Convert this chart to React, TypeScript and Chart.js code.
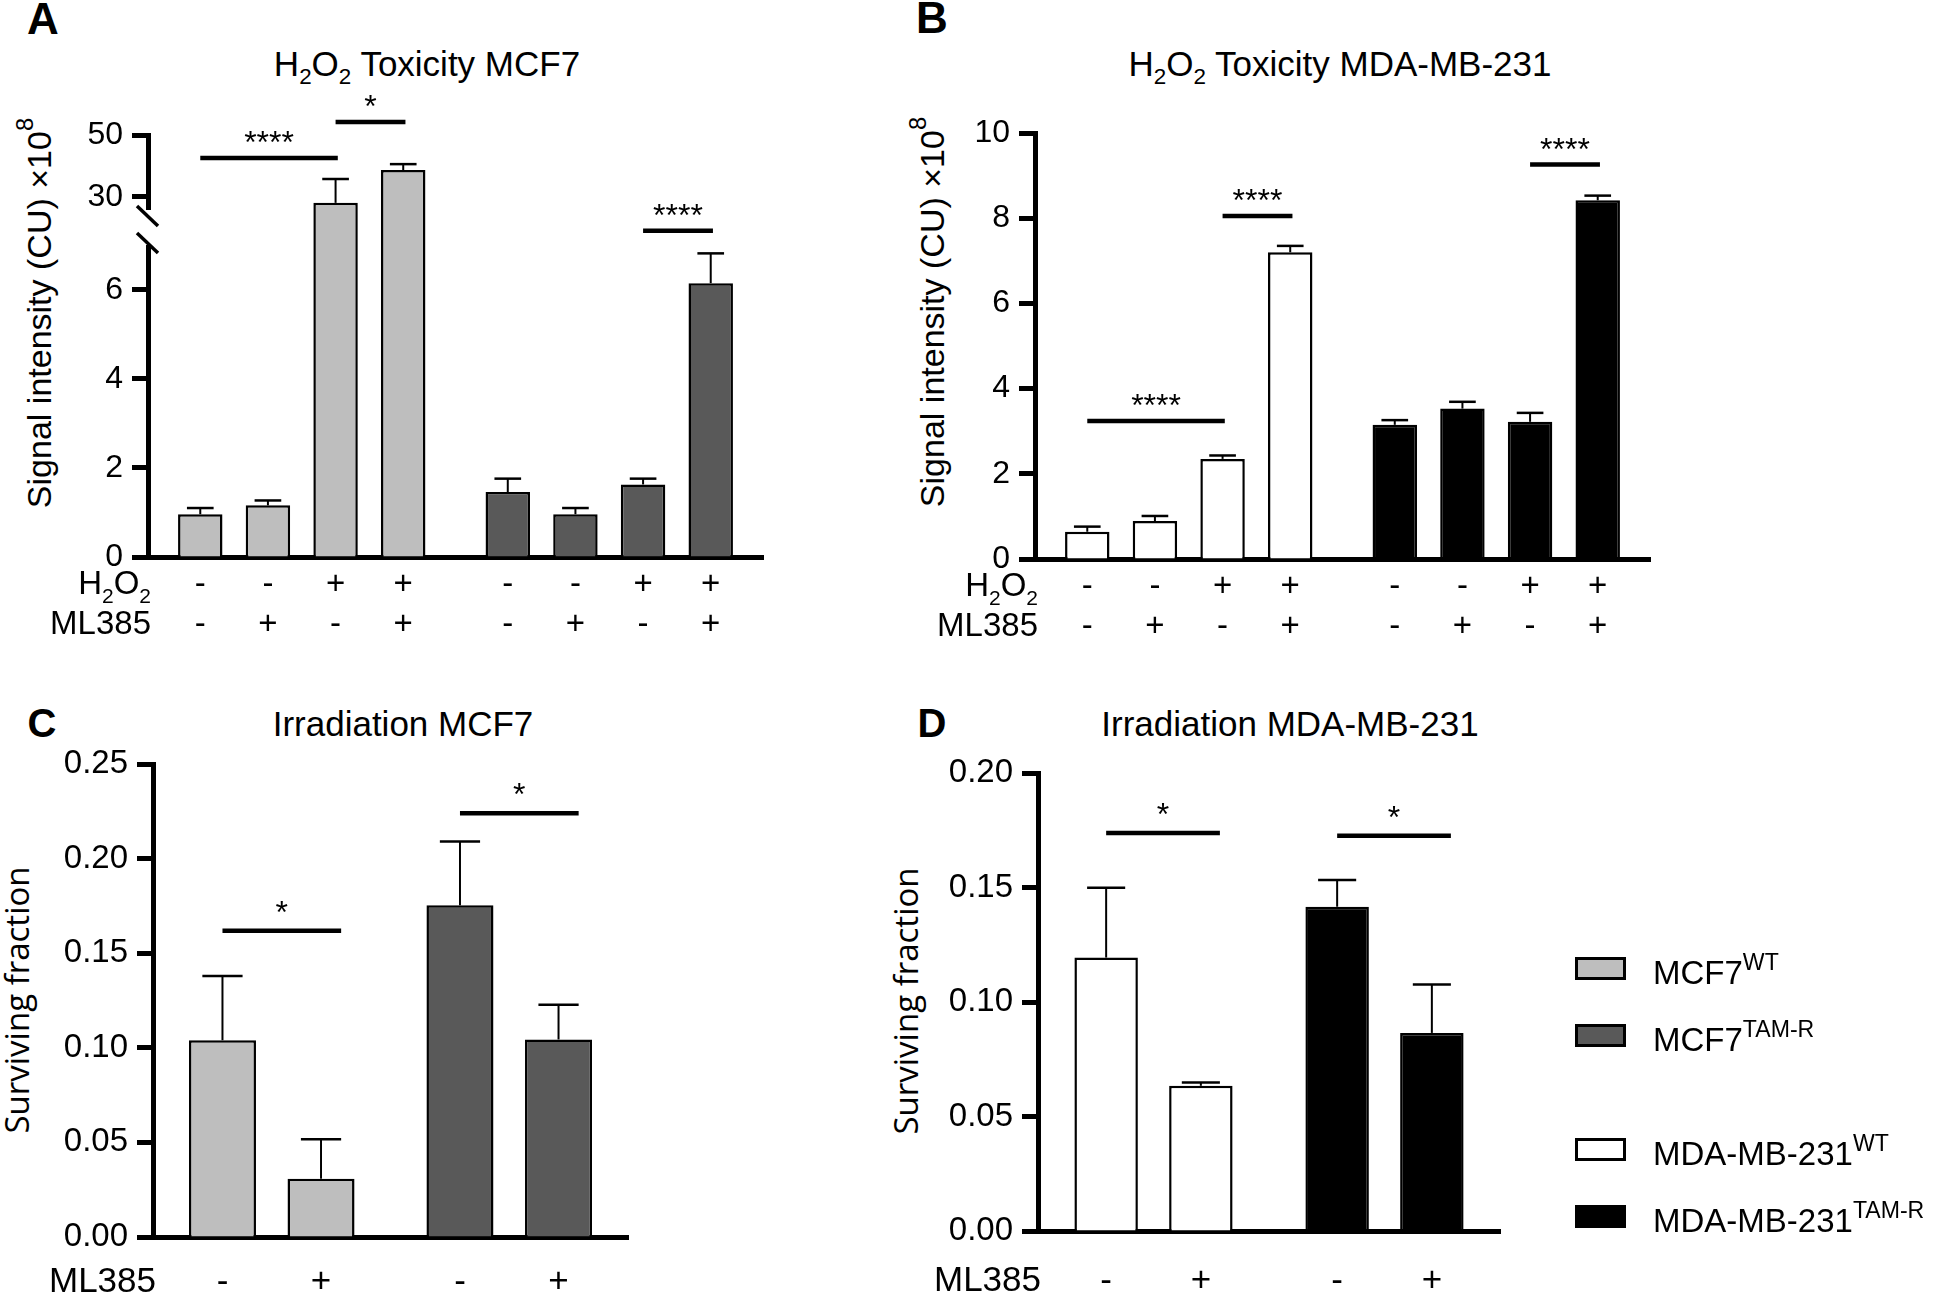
import React, { useEffect, useRef } from 'react';
import { Chart, registerables } from 'chart.js';

Chart.register(...registerables);

const FONT = '"Liberation Sans", Arial, Helvetica, sans-serif';
const LIGHT = '#bebebe';
const DARK = '#595959';
const WHITE = '#ffffff';
const BLACK = '#000000';

// ---------------- data ----------------
const h2o2Row = ['-', '-', '+', '+'];
const ml385Row = ['-', '+', '-', '+'];
const ml385RowIrr = ['-', '+'];
const mcf7Groups = ['MCF7 WT', 'MCF7 TAM-R'];
const mdaGroups = ['MDA-MB-231 WT', 'MDA-MB-231 TAM-R'];
const condH2O2 = ['H2O2- ML385-', 'H2O2- ML385+', 'H2O2+ ML385-', 'H2O2+ ML385+'];
const condIrr = ['ML385-', 'ML385+'];

// A: H2O2 toxicity MCF7 (signal intensity x10^8)
const mcf7WT_H2O2 = [0.96, 1.16, 28.1, 38.7];
const mcf7WT_H2O2_err = [0.14, 0.11, 7.7, 1.9];
const mcf7TamR_H2O2 = [1.46, 0.96, 1.63, 6.15];
const mcf7TamR_H2O2_err = [0.3, 0.14, 0.13, 0.67];

// B: H2O2 toxicity MDA-MB-231
const mdaWT_H2O2 = [0.64, 0.89, 2.35, 7.2];
const mdaWT_H2O2_err = [0.12, 0.12, 0.08, 0.15];
const mdaTamR_H2O2 = [3.15, 3.53, 3.22, 8.42];
const mdaTamR_H2O2_err = [0.11, 0.16, 0.21, 0.11];

// C: irradiation MCF7 (surviving fraction)
const mcf7WT_IR = [0.104, 0.0308];
const mcf7WT_IR_err = [0.034, 0.0208];
const mcf7TamR_IR = [0.1753, 0.1044];
const mcf7TamR_IR_err = [0.0337, 0.0183];

// D: irradiation MDA-MB-231
const mdaWT_IR = [0.1194, 0.0634];
const mdaWT_IR_err = [0.0305, 0.0014];
const mdaTamR_IR = [0.1416, 0.0865];
const mdaTamR_IR_err = [0.0117, 0.0211];

// tick labels
const ticksA_low = [0, 2, 4, 6];
const ticksA_high = [30, 50];
const ticksB = [0, 2, 4, 6, 8, 10];
const ticksC = [0, 0.05, 0.1, 0.15, 0.2, 0.25];
const ticksD = [0, 0.05, 0.1, 0.15, 0.2];

// significance brackets (group, first condition, second condition, height, label)
const bracketsA_high = [
  { g: 0, a: 0, b: 2, y: 42.6, label: '****' },
  { g: 0, a: 2, b: 3, y: 54.2, label: '*' },
];
const bracketsA_low = [{ g: 1, a: 2, b: 3, y: 7.33, label: '****' }];
const bracketsB = [
  { g: 0, a: 0, b: 2, y: 3.24, label: '****' },
  { g: 0, a: 2, b: 3, y: 8.05, label: '****' },
  { g: 1, a: 2, b: 3, y: 9.26, label: '****' },
];
const bracketsC = [
  { g: 0, a: 0, b: 1, y: 0.1618, label: '*' },
  { g: 1, a: 0, b: 1, y: 0.224, label: '*' },
];
const bracketsD = [
  { g: 0, a: 0, b: 1, y: 0.1738, label: '*' },
  { g: 1, a: 0, b: 1, y: 0.1726, label: '*' },
];

// ---------------- helpers ----------------
type Seg = { t: string; sub?: boolean };
const H2O2_SEGS: Seg[] = [{ t: 'H' }, { t: '2', sub: true }, { t: 'O' }, { t: '2', sub: true }];
const ML385_SEGS: Seg[] = [{ t: 'ML385' }];

type Bracket = { g: number; a: number; b: number; y: number; label: string };
type Row = { label: Seg[]; values: string[]; baseline: number };

interface Spec {
  groups: string[];
  conds: string[];
  values: number[][];
  errors: number[][];
  colors: string[];
  min: number;
  max: number;
  ticks: number[];
  decimals: number;
  tickSize: number;
  yWidth: number;
  padding: { left: number; top: number; right: number; bottom: number };
  catPct: number;
  barPct: number;
  brackets: Bracket[];
  bracketExtend: number;
  textLift: number;
  rows: Row[];
  rowSize: number;
  showX: boolean;
  breakMark?: 'top' | 'bottom';
}

function drawSegsRight(ctx: CanvasRenderingContext2D, segs: Seg[], xRight: number, base: number, size: number) {
  const fontFor = (s: Seg) => `${s.sub ? Math.round(size * 0.64) : size}px ${FONT}`;
  let total = 0;
  segs.forEach((s) => {
    ctx.font = fontFor(s);
    total += ctx.measureText(s.t).width;
  });
  let x = xRight - total;
  ctx.textAlign = 'left';
  ctx.textBaseline = 'alphabetic';
  segs.forEach((s) => {
    ctx.font = fontFor(s);
    ctx.fillText(s.t, x, s.sub ? base + size * 0.27 : base);
    x += ctx.measureText(s.t).width;
  });
}

function line(ctx: CanvasRenderingContext2D, x1: number, y1: number, x2: number, y2: number, w: number) {
  ctx.lineWidth = w;
  ctx.beginPath();
  ctx.moveTo(x1, y1);
  ctx.lineTo(x2, y2);
  ctx.stroke();
}

function overlay(spec: Spec) {
  return {
    id: 'overlay',
    afterDraw(chart: any) {
      const ctx: CanvasRenderingContext2D = chart.ctx;
      const ys = chart.scales.y;
      const area = chart.chartArea;
      ctx.save();
      ctx.strokeStyle = BLACK;
      ctx.fillStyle = BLACK;
      ctx.lineCap = 'butt';

      if (spec.breakMark === 'top') {
        ctx.clearRect(area.left - 8, area.bottom - 22, 16, 32);
        line(ctx, area.left - 11, area.bottom - 26, area.left + 10, area.bottom - 6, 3.5);
      } else if (spec.breakMark === 'bottom') {
        ctx.clearRect(area.left - 8, area.top - 10, 16, 23);
        line(ctx, area.left - 11, area.top + 1, area.left + 10, area.top + 21, 3.5);
      }

      // error bars (upper whisker)
      chart.data.datasets.forEach((ds: any, di: number) => {
        const meta = chart.getDatasetMeta(di);
        meta.data.forEach((el: any, gi: number) => {
          const v = ds.data[gi] as number;
          if (v < ys.min || v > ys.max) return;
          const e = spec.errors[gi][di];
          const yTop = ys.getPixelForValue(v + e);
          const half = el.width * 0.3;
          line(ctx, el.x, el.y, el.x, yTop, 2);
          line(ctx, el.x - half, yTop, el.x + half, yTop, 2.5);
        });
      });

      // significance brackets
      spec.brackets.forEach((b) => {
        const ea = chart.getDatasetMeta(b.a).data[b.g];
        const eb = chart.getDatasetMeta(b.b).data[b.g];
        const x1 = ea.x;
        const x2 = eb.x + eb.width * spec.bracketExtend;
        const y = ys.getPixelForValue(b.y);
        line(ctx, x1, y, x2, y, 4.5);
        ctx.font = `32px ${FONT}`;
        ctx.textAlign = 'center';
        ctx.textBaseline = 'alphabetic';
        ctx.fillText(b.label, (x1 + x2) / 2, y - spec.textLift);
      });

      // treatment rows under the axis
      spec.rows.forEach((row) => {
        const base = area.bottom + row.baseline;
        drawSegsRight(ctx, row.label, area.left + 3, base, spec.rowSize);
        ctx.font = `${spec.rowSize}px ${FONT}`;
        ctx.textAlign = 'center';
        ctx.textBaseline = 'alphabetic';
        chart.data.datasets.forEach((_ds: any, di: number) => {
          chart.getDatasetMeta(di).data.forEach((el: any) => {
            ctx.fillText(row.values[di], el.x, base);
          });
        });
      });
      ctx.restore();
    },
  };
}

function makeConfig(spec: Spec): any {
  const ticks = spec.ticks;
  return {
    type: 'bar',
    data: {
      labels: spec.groups,
      datasets: spec.conds.map((c, i) => ({
        label: c,
        data: spec.groups.map((_g, g) => spec.values[g][i]),
        backgroundColor: spec.colors,
        borderColor: BLACK,
        borderWidth: 2.5,
        borderSkipped: 'start',
        barPercentage: spec.barPct,
        categoryPercentage: spec.catPct,
        clip: 0,
      })),
    },
    options: {
      responsive: false,
      animation: false,
      events: [],
      devicePixelRatio: 1,
      layout: { padding: spec.padding },
      plugins: { legend: { display: false }, tooltip: { enabled: false }, title: { display: false } },
      scales: {
        x: {
          display: spec.showX,
          offset: true,
          z: 1,
          grid: { display: false, drawTicks: false },
          ticks: { display: false },
          border: { display: true, width: 5, color: BLACK },
          afterFit: (s: any) => {
            s.height = 0;
          },
        },
        y: {
          type: 'linear',
          min: spec.min,
          max: spec.max,
          z: 1,
          afterBuildTicks: (s: any) => {
            s.ticks = ticks.map((v) => ({ value: v }));
          },
          afterFit: (s: any) => {
            s.width = spec.yWidth;
          },
          grid: {
            display: true,
            drawOnChartArea: false,
            drawTicks: true,
            tickLength: 16,
            tickWidth: 5,
            tickColor: BLACK,
          },
          border: { display: true, width: 5, color: BLACK },
          ticks: {
            autoSkip: false,
            padding: 9,
            color: BLACK,
            font: { family: FONT, size: spec.tickSize },
            callback: (v: any) => Number(v).toFixed(spec.decimals),
          },
        },
      },
    },
    plugins: [overlay(spec)],
  };
}

function ChartCanvas({ left, top, width, height, spec }: { left: number; top: number; width: number; height: number; spec: Spec }) {
  const ref = useRef<HTMLCanvasElement | null>(null);
  useEffect(() => {
    if (!ref.current) return;
    const chart = new Chart(ref.current, makeConfig(spec));
    return () => chart.destroy();
  }, []);
  return (
    <canvas
      ref={ref}
      width={width}
      height={height}
      style={{ position: 'absolute', left, top, width, height }}
    />
  );
}

function Txt(props: {
  x: number;
  y: number;
  size: number;
  children: any;
  bold?: boolean;
  rotate?: boolean;
  family?: string;
}) {
  return (
    <div
      style={{
        position: 'absolute',
        left: props.x,
        top: props.y,
        transform: `translate(-50%, -50%)${props.rotate ? ' rotate(-90deg)' : ''}`,
        fontSize: props.size,
        fontWeight: props.bold ? 700 : 400,
        fontFamily: props.family || FONT,
        lineHeight: 1,
        whiteSpace: 'nowrap',
        color: BLACK,
      }}
    >
      {props.children}
    </div>
  );
}

const Sub = ({ children }: { children: any }) => (
  <span style={{ fontSize: '0.64em', verticalAlign: '-0.4em', lineHeight: 0 }}>{children}</span>
);
const Sup = ({ children }: { children: any }) => (
  <span style={{ fontSize: '0.7em', verticalAlign: '0.75em', lineHeight: 0 }}>{children}</span>
);

// ---------------- specs ----------------
const rowsH2O2: Row[] = [
  { label: H2O2_SEGS, values: h2o2Row, baseline: 37 },
  { label: ML385_SEGS, values: ml385Row, baseline: 77 },
];

const specA_high: Spec = {
  groups: mcf7Groups,
  conds: condH2O2,
  values: [mcf7WT_H2O2, mcf7TamR_H2O2],
  errors: [mcf7WT_H2O2_err, mcf7TamR_H2O2_err],
  colors: [LIGHT, DARK],
  min: 18.7,
  max: 50,
  ticks: ticksA_high,
  decimals: 0,
  tickSize: 32,
  yWidth: 148,
  padding: { left: 0, top: 55, right: 37, bottom: 428 },
  catPct: 0.88,
  barPct: 0.657,
  brackets: bracketsA_high,
  bracketExtend: 0.05,
  textLift: 5,
  rows: [],
  rowSize: 33,
  showX: false,
  breakMark: 'top',
};

const specA_low: Spec = {
  ...specA_high,
  min: 0,
  max: 7.3,
  ticks: ticksA_low,
  padding: { left: 0, top: 152, right: 37, bottom: 103 },
  brackets: bracketsA_low,
  rows: rowsH2O2,
  showX: true,
  breakMark: 'bottom',
};

const specB: Spec = {
  groups: mdaGroups,
  conds: condH2O2,
  values: [mdaWT_H2O2, mdaTamR_H2O2],
  errors: [mdaWT_H2O2_err, mdaTamR_H2O2_err],
  colors: [WHITE, BLACK],
  min: 0,
  max: 10,
  ticks: ticksB,
  decimals: 0,
  tickSize: 32,
  yWidth: 155,
  padding: { left: 0, top: 53, right: 30, bottom: 101 },
  catPct: 0.88,
  barPct: 0.657,
  brackets: bracketsB,
  bracketExtend: 0.05,
  textLift: 5,
  rows: rowsH2O2,
  rowSize: 33,
  showX: true,
};

const specC: Spec = {
  groups: mcf7Groups,
  conds: condIrr,
  values: [mcf7WT_IR, mcf7TamR_IR],
  errors: [mcf7WT_IR_err, mcf7TamR_IR_err],
  colors: [LIGHT, DARK],
  min: 0,
  max: 0.25,
  ticks: ticksC,
  decimals: 2,
  tickSize: 33,
  yWidth: 153,
  padding: { left: 0, top: 64, right: 72, bottom: 57 },
  catPct: 0.83,
  barPct: 0.68,
  brackets: bracketsC,
  bracketExtend: 0.3,
  textLift: 8,
  rows: [{ label: ML385_SEGS, values: ml385RowIrr, baseline: 55 }],
  rowSize: 35,
  showX: true,
};

const specD: Spec = {
  groups: mdaGroups,
  conds: condIrr,
  values: [mdaWT_IR, mdaTamR_IR],
  errors: [mdaWT_IR_err, mdaTamR_IR_err],
  colors: [WHITE, BLACK],
  min: 0,
  max: 0.2,
  ticks: ticksD,
  decimals: 2,
  tickSize: 33,
  yWidth: 158,
  padding: { left: 0, top: 73, right: 80, bottom: 63 },
  catPct: 0.82,
  barPct: 0.67,
  brackets: bracketsD,
  bracketExtend: 0.3,
  textLift: 8,
  rows: [{ label: ML385_SEGS, values: ml385RowIrr, baseline: 60 }],
  rowSize: 35,
  showX: true,
};

const legendItems = [
  { color: LIGHT, name: 'MCF7', sup: 'WT', y: 968 },
  { color: DARK, name: 'MCF7', sup: 'TAM-R', y: 1035 },
  { color: WHITE, name: 'MDA-MB-231', sup: 'WT', y: 1149 },
  { color: BLACK, name: 'MDA-MB-231', sup: 'TAM-R', y: 1216 },
];

export default function App() {
  useEffect(() => {
    document.body.style.margin = '0';
  }, []);
  return (
    <div
      style={{
        position: 'fixed',
        left: 0,
        top: 0,
        width: 1944,
        height: 1294,
        background: WHITE,
        overflow: 'hidden',
        fontFamily: FONT,
      }}
    >
      {/* Panel letters */}
      <Txt x={43} y={19} size={44} bold>A</Txt>
      <Txt x={932} y={18} size={44} bold>B</Txt>
      <Txt x={42} y={723} size={40} bold>C</Txt>
      <Txt x={932} y={723} size={40} bold>D</Txt>

      {/* Titles */}
      <Txt x={427} y={63} size={35}>
        H<Sub>2</Sub>O<Sub>2</Sub> Toxicity MCF7
      </Txt>
      <Txt x={1340} y={63} size={35}>
        H<Sub>2</Sub>O<Sub>2</Sub> Toxicity MDA-MB-231
      </Txt>
      <Txt x={403} y={723} size={35}>Irradiation MCF7</Txt>
      <Txt x={1290} y={723} size={35}>Irradiation MDA-MB-231</Txt>

      {/* Y axis titles */}
      <Txt x={39} y={313} size={34} rotate>
        Signal intensity (CU) ×10<Sup>8</Sup>
      </Txt>
      <Txt x={932} y={312} size={34} rotate>
        Signal intensity (CU) ×10<Sup>8</Sup>
      </Txt>
      <Txt x={16} y={1000} size={33} rotate family='"Open Sans", sans-serif'>
        Surviving fraction
      </Txt>
      <Txt x={905} y={1001} size={33} rotate family='"Open Sans", sans-serif'>
        Surviving fraction
      </Txt>

      {/* Charts */}
      <ChartCanvas left={0} top={80} width={800} height={580} spec={specA_low} />
      <ChartCanvas left={0} top={80} width={800} height={580} spec={specA_high} />
      <ChartCanvas left={880} top={80} width={800} height={580} spec={specB} />
      <ChartCanvas left={0} top={700} width={700} height={594} spec={specC} />
      <ChartCanvas left={880} top={700} width={700} height={594} spec={specD} />

      {/* Legend */}
      {legendItems.map((it) => (
        <React.Fragment key={it.name + it.sup}>
          <div
            style={{
              position: 'absolute',
              left: 1575,
              top: it.y - 11.5,
              width: 51,
              height: 23,
              boxSizing: 'border-box',
              border: '3px solid #000',
              background: it.color,
            }}
          />
          <div
            style={{
              position: 'absolute',
              left: 1653,
              top: it.y + 4,
              transform: 'translateY(-50%)',
              fontSize: 33,
              lineHeight: 1,
              whiteSpace: 'nowrap',
              fontFamily: FONT,
            }}
          >
            {it.name}
            <span style={{ fontSize: '0.7em', verticalAlign: '0.6em', lineHeight: 0 }}>{it.sup}</span>
          </div>
        </React.Fragment>
      ))}
    </div>
  );
}
